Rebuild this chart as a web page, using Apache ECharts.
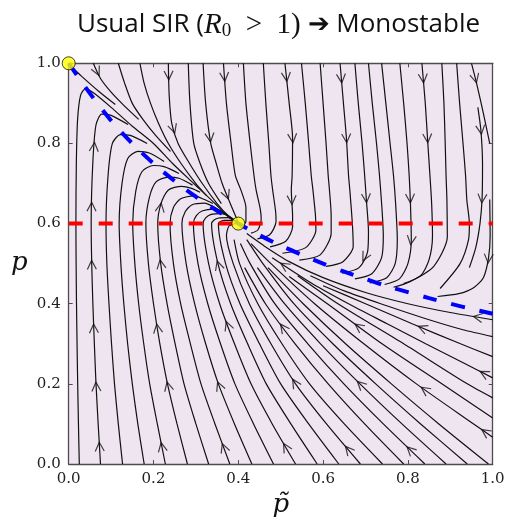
<!DOCTYPE html>
<html>
<head>
<meta charset="utf-8">
<script src="https://cdn.jsdelivr.net/npm/echarts/dist/echarts.min.js"></script>
<style>
  html, body { margin: 0; padding: 0; background: #fff; }
  #chart { width: 508px; height: 526px; }
</style>
</head>
<body>
<div id="chart"></div>
<script>
// nullclines and fixed points
const pNullcline = [[0, 1], [0.05, 0.925], [0.1, 0.857], [0.15, 0.8], [0.2, 0.75], [0.25, 0.706],
  [0.3, 0.667], [0.35, 0.632], [0.4, 0.6], [0.45, 0.571], [0.5, 0.545], [0.55, 0.522], [0.6, 0.5],
  [0.65, 0.48], [0.7, 0.462], [0.75, 0.444], [0.8, 0.429], [0.85, 0.414], [0.9, 0.4], [0.95, 0.387], [1, 0.375]]
const pTildeNullcline = [[0, 0.6], [1, 0.6]]
const fixedPoints = [[0, 1], [0.4, 0.6]]

// streamlines, each listed in the direction of the flow
// lines entering from the bottom edge
const bottomLines = [
  [[.025,0],[.023,.1],[.0212,.2],[.0197,.3],[.0184,.4],[.0175,.5],[.017,.6],[.018,.75],[.021,.86],[.028,.92],[.04,.937],[.06,.925],[.1,.89],[.15,.843],[.2,.8],[.245,.75],[.295,.7],[.345,.65],[.373,.62],[.397,.602]],
  [[.075,0],[.0695,.1],[.0644,.2],[.0605,.3],[.057,.4],[.0543,.5],[.053,.6],[.0568,.75],[.0643,.846],[.078,.873],[.1,.87],[.14,.847]],
  [[.127,0],[.117,.1],[.108,.2],[.101,.3],[.095,.4],[.09,.5],[.088,.6],[.093,.722],[.103,.8],[.122,.822],[.145,.82],[.185,.8]],
  [[.178,0],[.163,.1],[.15,.2],[.139,.3],[.13,.4],[.123,.5],[.119,.6],[.1256,.699],[.139,.762],[.163,.78],[.19,.776],[.225,.755]],
  [[.228,0],[.209,.1],[.191,.2],[.177,.3],[.165,.4],[.156,.5],[.151,.6],[.158,.68],[.173,.73],[.2,.745],[.225,.742],[.26,.725]],
  [[.28,0],[.2555,.1],[.233,.2],[.215,.3],[.2,.4],[.188,.5],[.182,.6],[.19,.664],[.206,.704],[.235,.716],[.26,.713],[.292,.696]],
  [[.33,0],[.3,.1],[.272,.2],[.251,.3],[.232,.4],[.217,.5],[.21,.6],[.218,.651],[.235,.684],[.266,.693],[.29,.688],[.31,.678]],
  [[.38,0],[.345,.1],[.312,.2],[.287,.3],[.264,.4],[.247,.5],[.239,.6],[.247,.64],[.264,.662],[.295,.669],[.32,.66],[.34,.65]],
  [[.432,0],[.391,.1],[.353,.2],[.323,.3],[.297,.4],[.277,.5],[.267,.6],[.275,.63],[.291,.647],[.32,.651],[.345,.64],[.368,.624]],
  [[.483,0],[.436,.1],[.392,.2],[.358,.3],[.328,.4],[.305,.5],[.294,.6],[.301,.62],[.316,.632],[.342,.636],[.365,.628],[.388,.61]],
  [[.535,0],[.48,.1],[.43,.2],[.391,.3],[.356,.4],[.33,.5],[.317,.6],[.323,.614],[.336,.623],[.36,.625],[.38,.617],[.396,.604]],
  [[.586,0],[.524,.1],[.466,.2],[.422,.3],[.382,.4],[.352,.5],[.337,.6],[.343,.609],[.354,.614],[.375,.615],[.396,.603]],
  [[.637,0],[.566,.1],[.5,.2],[.45,.3],[.404,.4],[.37,.5],[.353,.6],[.358,.605],[.368,.608],[.388,.608]],
  [[.688,0],[.608,.1],[.535,.2],[.477,.3],[.426,.4],[.388,.5],[.372,.57],[.378,.594],[.392,.6]],
  [[.74,0],[.65,.1],[.568,.2],[.503,.3],[.446,.4],[.403,.5],[.39,.56]],
  [[.79,0],[.698,.1],[.612,.2],[.534,.3],[.464,.4],[.415,.49]],
  [[.84,0],[.742,.1],[.649,.2],[.564,.3],[.486,.4],[.428,.5],[.405,.55]],
  [[.89,0],[.786,.1],[.687,.2],[.594,.3],[.509,.4],[.445,.49]],
  [[.94,0],[.83,.1],[.724,.2],[.623,.3],[.531,.4],[.458,.5],[.42,.56]],
  [[.99,0],[.873,.1],[.761,.2],[.653,.3],[.553,.4],[.47,.49]]
]
// lines from the top edge left of the stable point (and one leaving the saddle at (0,1))
const topLines = [
  [[.008,.99],[.03,.968],[.072,.929],[.11,.897]],
  [[.058,1],[.075,.962],[.1,.928],[.13,.895],[.165,.86]],
  [[.117,1],[.132,.95],[.15,.9],[.175,.86],[.205,.82],[.24,.78]],
  [[.168,1],[.178,.95],[.193,.9],[.212,.85],[.235,.8],[.265,.75],[.3,.7],[.325,.67]],
  [[.235,1],[.237,.92],[.243,.85],[.258,.8],[.285,.75],[.315,.7],[.35,.65],[.376,.62],[.398,.602]],
  [[.282,1],[.286,.9],[.295,.8],[.31,.75],[.33,.7],[.36,.65]],
  [[.317,1],[.323,.9],[.335,.8],[.348,.75],[.362,.7],[.381,.65],[.393,.62],[.399,.605]],
  [[.365,1],[.372,.9],[.383,.8],[.393,.72],[.406,.684],[.418,.64],[.418,.605],[.404,.59]]
]
// lines from the top edge right of the stable point, turning back at the p nullcline
const rightLines = [
  [[.412,1],[.418,.9],[.428,.8],[.437,.72],[.442,.684],[.452,.635],[.454,.61],[.446,.584],[.43,.576]],
  [[.459,1],[.465,.9],[.472,.8],[.477,.72],[.481,.684],[.488,.63],[.489,.605],[.474,.572],[.445,.562]],
  [[.51,1],[.52,.9],[.528,.813],[.527,.72],[.525,.684],[.528,.62],[.528,.592],[.512,.556],[.475,.542]],
  [[.549,1],[.558,.9],[.566,.8],[.572,.72],[.576,.684],[.582,.62],[.583,.584],[.559,.54],[.504,.526]],
  [[.593,1],[.6,.9],[.607,.8],[.612,.72],[.615,.684],[.619,.62],[.619,.576],[.593,.522],[.544,.509]],
  [[.64,1],[.648,.9],[.655,.813],[.66,.72],[.663,.684],[.669,.6],[.671,.543],[.647,.505],[.607,.493]],
  [[.675,1],[.683,.9],[.692,.8],[.698,.72],[.702,.66],[.707,.58],[.705,.53],[.685,.49],[.645,.476]],
  [[.707,1],[.716,.9],[.726,.8],[.733,.72],[.738,.65],[.742,.57],[.738,.515],[.715,.475],[.675,.462]],
  [[.738,1],[.748,.9],[.758,.8],[.766,.72],[.771,.65],[.775,.56],[.77,.5],[.75,.465],[.71,.452]],
  [[.781,1],[.79,.9],[.798,.8],[.803,.72],[.806,.65],[.808,.56],[.8,.5],[.78,.462],[.745,.448]],
  [[.833,1],[.841,.9],[.847,.8],[.852,.72],[.856,.65],[.858,.57],[.85,.51],[.83,.47],[.79,.45]],
  [[.88,1],[.885,.9],[.888,.8],[.89,.72],[.892,.659],[.893,.567],[.86,.492],[.805,.455],[.766,.441]],
  [[.915,1],[.922,.9],[.93,.8],[.936,.72],[.939,.659],[.945,.6],[.943,.56],[.923,.5],[.876,.438]],
  [[.95,1],[.962,.95],[.977,.88],[.993,.8]],
  [[.965,.89],[.972,.834],[.976,.75],[.975,.663],[.97,.6],[.96,.54],[.945,.49]],
  [[.993,.66],[.994,.57],[.99,.513],[.978,.465],[.955,.44],[.92,.425],[.87,.418]]
]
// lines entering from the right edge below the p nullcline
const edgeLines = [
  [[1,.067],[.955,.1],[.82,.2],[.696,.3],[.58,.4],[.477,.5],[.43,.55]],
  [[1,.115],[.88,.2],[.739,.3],[.61,.4],[.52,.468]],
  [[1,.165],[.94,.2],[.79,.3],[.635,.4],[.54,.47]],
  [[1,.215],[.935,.25],[.842,.3],[.751,.35],[.66,.4],[.575,.45],[.48,.515]],
  [[1,.268],[.924,.3],[.81,.35],[.7,.4],[.6,.445]],
  [[1,.318],[.93,.335],[.85,.36],[.75,.395],[.65,.432],[.57,.47]],
  [[1,.36],[.9,.378],[.8,.4],[.7,.428],[.6,.465],[.52,.505],[.46,.545],[.42,.575]]
]
// where the arrow heads sit
const arrowSpots = [
  [.058,.975],[.054,.792],[.054,.642],[.235,.97],[.239,.834],[.365,.966],[.349,.817],[.207,.642],
  [.522,.967],[.53,.813],[.526,.659],[.652,.963],[.656,.813],[.695,.663],[.805,.663],[.844,.963],
  [.844,.813],[.962,.963],[.97,.834],[.97,.663],[.805,.559],
  [.054,.497],[.054,.338],[.207,.497],[.207,.338],[.357,.497],[.38,.347],
  [.066,.193],[.074,.043],[.231,.193],[.223,.043],[.361,.197],[.373,.043],
  [.526,.197],[.514,.043],[.687,.197],[.668,.043],[.848,.197],[.813,.043],[.978,.222],[.978,.072],
  [.51,.497],[.683,.526],[.99,.513],[.51,.343],[.687,.347],[.836,.343],[.966,.372],[.38,.675]
]

const chart = echarts.init(document.getElementById('chart'))
const streams = [...bottomLines, ...topLines, ...rightLines, ...edgeLines]

const axisColor = '#4d4d4d'
const tickFont = { fontFamily: 'DejaVu Serif', fontSize: 15, color: '#222' }

function makeAxis(position, withLabels) {
  return {
    type: 'value', position, min: 0, max: 1, interval: 0.2,
    axisLine: { show: true, onZero: false, lineStyle: { color: axisColor, width: 1.3 } },
    axisTick: { show: true, inside: true, length: 4, lineStyle: { color: axisColor, width: 1 } },
    axisLabel: Object.assign({ show: withLabels, margin: 8, formatter: v => v.toFixed(1) }, tickFont),
    splitLine: { show: false }
  }
}

const xBottom = makeAxis('bottom', true)
xBottom.name = 'p\u0303'
xBottom.nameLocation = 'middle'
xBottom.nameGap = 27
xBottom.nameTextStyle = { fontFamily: 'DejaVu Serif', fontStyle: 'italic', fontSize: 26, color: '#111' }
const yLeft = makeAxis('left', true)
yLeft.name = 'p'
yLeft.nameLocation = 'middle'
yLeft.nameRotate = 0
yLeft.nameGap = 41
yLeft.nameTextStyle = { fontFamily: 'DejaVu Serif', fontStyle: 'italic', fontSize: 26, color: '#111' }

const series = streams.map(pts => ({
  type: 'line', data: pts, smooth: 0.25, symbol: 'none', silent: true, z: 2,
  lineStyle: { color: '#111', width: 1.2 }
}))
series.push({
  type: 'line', data: pTildeNullcline, symbol: 'none', silent: true, z: 3,
  lineStyle: { color: '#ff0000', width: 4, type: [14, 16], cap: 'butt' }
})
series.push({
  type: 'line', data: pNullcline, smooth: 0.3, symbol: 'none', silent: true, z: 3,
  lineStyle: { color: '#0000ff', width: 4, type: [14, 15], cap: 'butt' }
})
series.push({
  id: 'arrows', type: 'scatter', data: [], silent: true, z: 4,
  symbol: 'path://M0,10L5,0L10,10', symbolSize: [9, 9],
  itemStyle: { color: 'none', borderColor: '#111', borderWidth: 1.2 }
})
series.push({
  type: 'scatter', data: fixedPoints, symbolSize: 13, silent: true, z: 5,
  itemStyle: { color: '#ffff00', borderColor: '#111', borderWidth: 1 }
})

const option = {
  animation: false,
  title: {
    left: 77, top: 9, padding: 0,
    text: '{t|Usual SIR (}{r|R}{s|0}{m|  >  1)}{t| \u2794 Monostable}',
    textStyle: {
      fontWeight: 'normal',
      rich: {
        t: { fontFamily: 'Open Sans', fontSize: 26, fontWeight: 'normal', color: '#111' },
        r: { fontFamily: 'Liberation Serif', fontStyle: 'italic', fontWeight: 'normal', fontSize: 29, color: '#111' },
        s: { fontFamily: 'Liberation Serif', fontWeight: 'normal', fontSize: 19, color: '#111', padding: [13, 0, 0, 0] },
        m: { fontFamily: 'Liberation Serif', fontWeight: 'normal', fontSize: 29, color: '#111' }
      }
    }
  },
  grid: {
    left: 68.7, right: 15.3, top: 63.3, bottom: 62,
    show: true, backgroundColor: '#efe5f0', borderWidth: 0
  },
  xAxis: [xBottom, makeAxis('top', false)],
  yAxis: [yLeft, makeAxis('right', false)],
  series
}

chart.setOption(option)

// snap each arrow spot onto the nearest streamline and point it along the flow
function placeArrows() {
  const px = streams.map(line => line.map(p => chart.convertToPixel({ gridIndex: 0 }, p)))
  const data = arrowSpots.map(spot => {
    const s = chart.convertToPixel({ gridIndex: 0 }, spot)
    let best = null
    px.forEach(line => {
      for (let i = 0; i < line.length - 1; i++) {
        const a = line[i], b = line[i + 1]
        const dx = b[0] - a[0], dy = b[1] - a[1]
        const len2 = dx * dx + dy * dy
        if (!len2) continue
        let t = ((s[0] - a[0]) * dx + (s[1] - a[1]) * dy) / len2
        t = Math.max(0, Math.min(1, t))
        const qx = a[0] + t * dx, qy = a[1] + t * dy
        const d = (qx - s[0]) ** 2 + (qy - s[1]) ** 2
        if (!best || d < best.d) best = { d, qx, qy, dx, dy }
      }
    })
    return {
      value: chart.convertFromPixel({ gridIndex: 0 }, [best.qx, best.qy]),
      symbolRotate: Math.atan2(-best.dx, -best.dy) * 180 / Math.PI
    }
  })
  chart.setOption({ series: [{ id: 'arrows', data }] })
}
placeArrows()
</script>
</body>
</html>
